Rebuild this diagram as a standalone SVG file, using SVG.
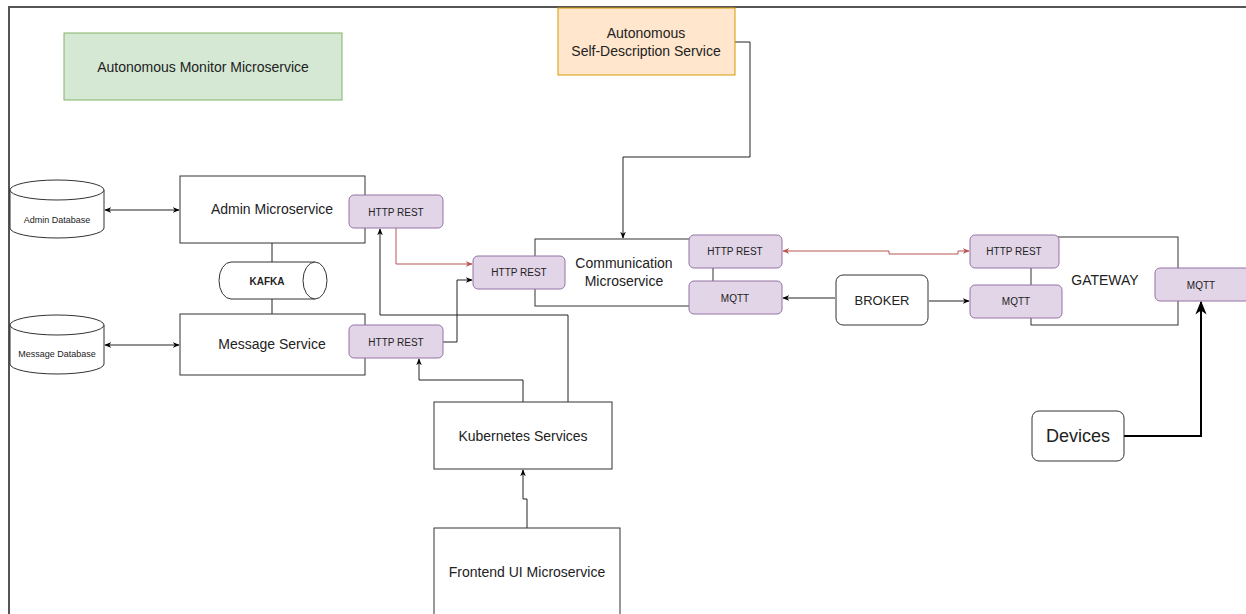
<svg xmlns="http://www.w3.org/2000/svg" width="1246" height="614" viewBox="0 0 1246 614">
<defs>
<style>
text{font-family:"Liberation Sans",Arial,sans-serif;fill:#222;text-anchor:middle;dominant-baseline:central}
.box{fill:#fff;stroke:#333;stroke-width:1}
.port{fill:#e1d5e7;stroke:#9673a6;stroke-width:1}
.t14{font-size:14px}
.t10{font-size:10px}
.t9{font-size:9px}
.ln{fill:none;stroke:#222;stroke-width:1}
.red{fill:none;stroke:#b85450;stroke-width:1}
</style>
<marker id="a" viewBox="0 0 10 10" refX="9" refY="5" markerWidth="7" markerHeight="7" orient="auto-start-reverse"><path d="M0,1 L10,5 L0,9 L3,5 Z" fill="#000"/></marker>
<marker id="ar" viewBox="0 0 10 10" refX="9" refY="5" markerWidth="7" markerHeight="7" orient="auto-start-reverse"><path d="M0,1 L10,5 L0,9 L3,5 Z" fill="#b85450"/></marker>
</defs>
<rect width="1246" height="614" fill="#fff"/>
<path d="M9,614 V7 H1246" fill="none" stroke="#555" stroke-width="2"/>

<g id="connectors">
<path class="ln" d="M735,42 H750 V157 H623 V238" marker-end="url(#a)"/>
<path class="ln" d="M105,210 H179" marker-start="url(#a)" marker-end="url(#a)"/>
<path class="ln" d="M105,345 H179" marker-start="url(#a)" marker-end="url(#a)"/>
<path class="ln" d="M272,243 V262 M272,299 V314"/>
<path class="red" d="M396,228 V264 H472" marker-end="url(#ar)"/>
<path class="ln" d="M443,342 H457 V280 H472" marker-end="url(#a)"/>
<path class="ln" d="M568,402 V315 H380 V229" marker-end="url(#a)"/>
<path class="ln" d="M523,402 V380 H419 V359" marker-end="url(#a)"/>
<path class="ln" d="M527,528 V499 H523 V470" marker-end="url(#a)"/>
<path class="red" d="M783,251 H889 V254 H958 V251 H969" marker-start="url(#ar)" marker-end="url(#ar)"/>
<path class="ln" d="M835,298 H783" marker-end="url(#a)"/>
<path class="ln" d="M929,301 H969" marker-end="url(#a)"/>
<path class="ln" d="M712,268 V281"/>
<path d="M1124,436 H1201 V302" fill="none" stroke="#000" stroke-width="2" marker-end="url(#a)"/>
</g>

<g id="monitor">
<rect x="64" y="33" width="278" height="67" fill="#d5e8d4" stroke="#82b366"/>
<text class="t14" x="203" y="67">Autonomous Monitor Microservice</text>
</g>

<g id="selfdesc">
<rect x="558" y="8" width="177" height="67" fill="#ffe6cc" stroke="#d79b00"/>
<text class="t14" x="646" y="33">Autonomous</text>
<text class="t14" x="646" y="51">Self-Description Service</text>
</g>

<g id="admin-db">
<path class="box" d="M10,190 A47,10 0 0 1 104,190 V228 A47,10 0 0 1 10,228 Z"/>
<path class="box" d="M10,190 A47,10 0 0 0 104,190" fill="none"/>
<text class="t9" x="57" y="220">Admin Database</text>
</g>

<g id="message-db">
<path class="box" d="M10,325 A47,10 0 0 1 104,325 V364 A47,10 0 0 1 10,364 Z"/>
<path class="box" d="M10,325 A47,10 0 0 0 104,325" fill="none"/>
<text class="t9" x="57" y="354">Message Database</text>
</g>

<g id="admin">
<rect class="box" x="180" y="176" width="185" height="67"/>
<text class="t14" x="272" y="209">Admin Microservice</text>
</g>
<g id="admin-http">
<rect class="port" x="349" y="195" width="94" height="33" rx="5"/>
<text class="t10" x="396" y="212">HTTP REST</text>
</g>

<g id="kafka">
<path class="box" d="M231,262 H315 A12,18.5 0 0 1 315,299 H231 A12,18.5 0 0 1 231,262 Z"/>
<path class="box" d="M315,262 A12,18.5 0 0 0 315,299" fill="none"/>
<text class="t10" x="267" y="281" font-weight="bold">KAFKA</text>
</g>

<g id="message">
<rect class="box" x="180" y="314" width="185" height="61"/>
<text class="t14" x="272" y="344">Message Service</text>
</g>
<g id="message-http">
<rect class="port" x="349" y="325" width="94" height="33" rx="5"/>
<text class="t10" x="396" y="342">HTTP REST</text>
</g>

<g id="comm">
<rect class="box" x="535" y="239" width="178" height="67"/>
<text class="t14" x="624" y="263">Communication</text>
<text class="t14" x="624" y="281">Microservice</text>
</g>
<g id="comm-http-left">
<rect class="port" x="473" y="256" width="92" height="33" rx="5"/>
<text class="t10" x="519" y="272">HTTP REST</text>
</g>
<g id="comm-http-right">
<rect class="port" x="689" y="235" width="93" height="33" rx="5"/>
<text class="t10" x="735" y="251">HTTP REST</text>
</g>
<g id="comm-mqtt">
<rect class="port" x="689" y="281" width="93" height="33" rx="5"/>
<text class="t10" x="735" y="298">MQTT</text>
</g>

<g id="broker">
<rect class="box" x="836" y="275" width="92" height="50" rx="7"/>
<text class="t14" x="882" y="300" style="font-size:13px">BROKER</text>
</g>

<g id="gateway">
<rect class="box" x="1031" y="237" width="147" height="88"/>
<text class="t14" x="1105" y="280">GATEWAY</text>
</g>
<g id="gw-http">
<rect class="port" x="970" y="235" width="89" height="33" rx="5"/>
<text class="t10" x="1014" y="251">HTTP REST</text>
</g>
<g id="gw-mqtt">
<rect class="port" x="970" y="285" width="92" height="33" rx="5"/>
<text class="t10" x="1016" y="301">MQTT</text>
</g>
<g id="gw-mqtt-right">
<rect class="port" x="1155" y="268" width="95" height="33" rx="5"/>
<text class="t10" x="1201" y="285">MQTT</text>
</g>

<g id="devices">
<rect class="box" x="1032" y="411" width="92" height="50" rx="7"/>
<text x="1078" y="436" style="font-size:18px">Devices</text>
</g>

<g id="kubernetes">
<rect class="box" x="434" y="402" width="178" height="67"/>
<text class="t14" x="523" y="436">Kubernetes Services</text>
</g>

<g id="frontend">
<rect class="box" x="434" y="528" width="186" height="100"/>
<text class="t14" x="527" y="572">Frontend UI Microservice</text>
</g>
</svg>
